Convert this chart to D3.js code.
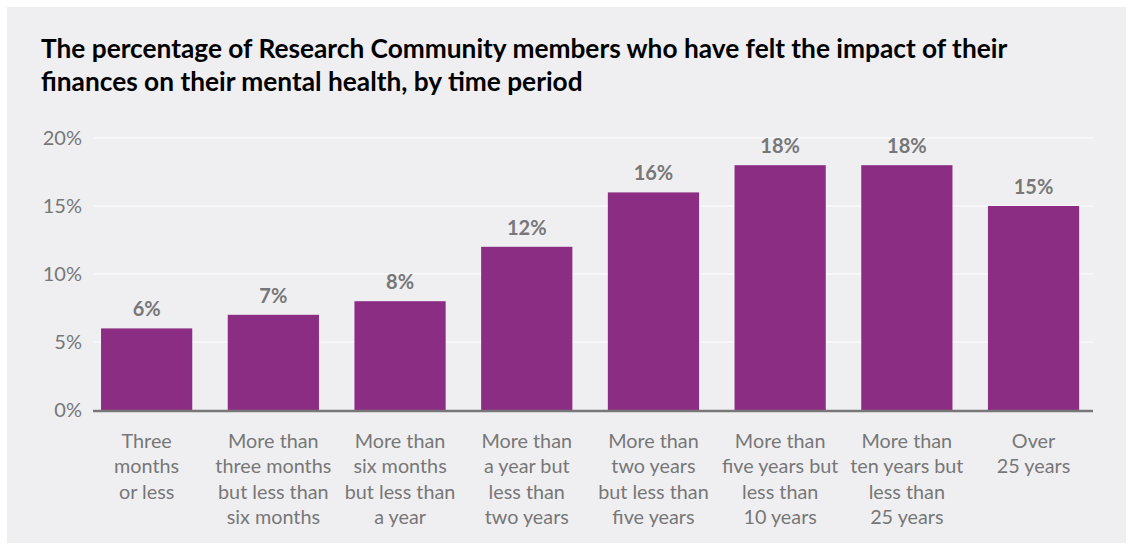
<!DOCTYPE html>
<html>
<head>
<meta charset="utf-8">
<script src="https://cdn.jsdelivr.net/npm/d3@7"></script>
<style>
  html, body { margin: 0; padding: 0; background: #ffffff; }
  svg { display: block; font-family: Lato, "Open Sans", sans-serif; }
</style>
</head>
<body>
<svg id="chart" width="1135" height="549"></svg>
<script>
// Share of Research Community members feeling the impact of finances on mental health
const categories = [
  ["Three", "months", "or less"],
  ["More than", "three months", "but less than", "six months"],
  ["More than", "six months", "but less than", "a year"],
  ["More than", "a year but", "less than", "two years"],
  ["More than", "two years", "but less than", "five years"],
  ["More than", "five years but", "less than", "10 years"],
  ["More than", "ten years but", "less than", "25 years"],
  ["Over", "25 years"]
];
const values = [6, 7, 8, 12, 16, 18, 18, 15];
const yTicks = [0, 5, 10, 15, 20];
const titleLines = [
  "The percentage of Research Community members who have felt the impact of their",
  "finances on their mental health, by time period"
];

const svg = d3.select("#chart");

// panel background
svg.append("rect")
  .attr("x", 7).attr("y", 7)
  .attr("width", 1119).attr("height", 536)
  .attr("fill", "#efeff2");

// title
const title = svg.append("g");
titleLines.forEach((t, i) => {
  title.append("text")
    .attr("x", 41).attr("y", 58 + i * 32.5)
    .attr("font-size", 24).attr("font-weight", 700)
    .attr("fill", "#000")
    .text(t);
});
// scale title so first line spans its intended width
const first = title.select("text").node();
const w0 = first.getComputedTextLength();
const fs = 24 * 967 / w0;
title.selectAll("text").attr("font-size", fs);

const x = d3.scaleBand()
  .domain(d3.range(values.length))
  .range([83.3, 1096.9])
  .paddingInner(0.28)
  .paddingOuter(0.14);

const y = d3.scaleLinear().domain([0, 20]).range([410, 138]);

const gridX0 = 93, gridX1 = 1093;

// gridlines
svg.append("g").selectAll("line")
  .data(yTicks.filter(d => d > 0))
  .join("line")
  .attr("x1", gridX0).attr("x2", gridX1)
  .attr("y1", d => y(d)).attr("y2", d => y(d))
  .attr("stroke", "#ffffff").attr("stroke-width", 1.2);

// y axis labels
const yAxis = svg.append("g")
  .attr("transform", `translate(${gridX0},0)`)
  .call(d3.axisLeft(y).tickValues(yTicks).tickFormat(d => d + "%").tickSize(0).tickPadding(11));
yAxis.select(".domain").remove();
yAxis.selectAll("text")
  .attr("font-family", "Lato, sans-serif")
  .attr("font-size", 20)
  .attr("fill", "#777777");

// bars
svg.append("g").selectAll("rect")
  .data(values)
  .join("rect")
  .attr("x", (d, i) => x(i))
  .attr("y", d => y(d))
  .attr("width", x.bandwidth())
  .attr("height", d => y(0) - y(d))
  .attr("fill", "#8c2d84");

// value labels
svg.append("g").selectAll("text")
  .data(values)
  .join("text")
  .attr("x", (d, i) => x(i) + x.bandwidth() / 2)
  .attr("y", d => y(d) - 12)
  .attr("text-anchor", "middle")
  .attr("font-size", 20).attr("font-weight", 700)
  .attr("fill", "#777777")
  .text(d => d + "%");

// baseline
svg.append("line")
  .attr("x1", gridX0).attr("x2", gridX1)
  .attr("y1", y(0) + 1).attr("y2", y(0) + 1)
  .attr("stroke", "#777777").attr("stroke-width", 2.5);

// category labels
const cat = svg.append("g").selectAll("text")
  .data(categories)
  .join("text")
  .attr("x", (d, i) => x(i) + x.bandwidth() / 2)
  .attr("text-anchor", "middle")
  .attr("font-size", 19.8)
  .attr("fill", "#777777");
cat.each(function(lines) {
  const t = d3.select(this);
  lines.forEach((l, j) => {
    t.append("tspan")
      .attr("x", t.attr("x"))
      .attr("y", 447.5 + j * 25.6)
      .text(l);
  });
});
</script>
</body>
</html>
